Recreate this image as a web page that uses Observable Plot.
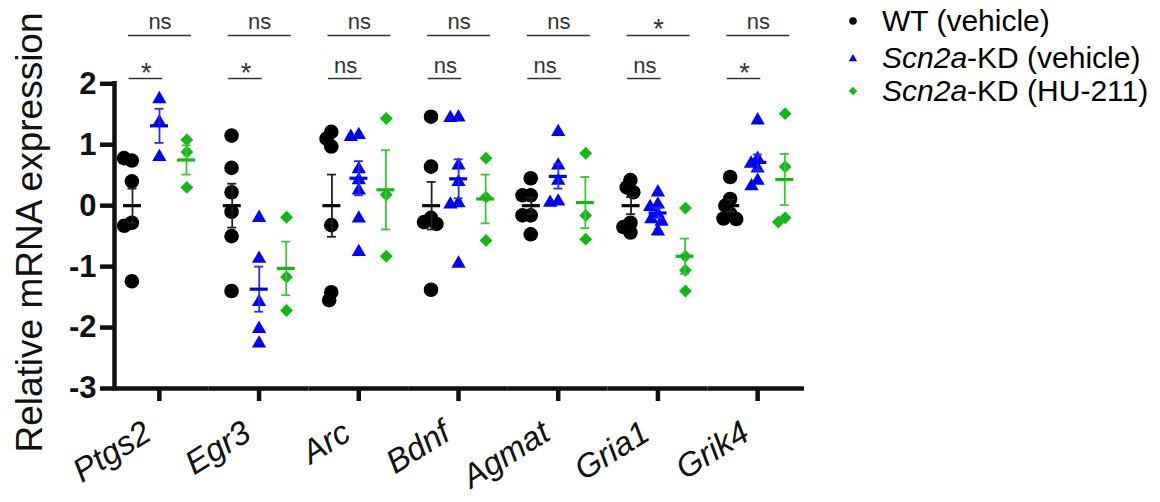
<!DOCTYPE html>
<html>
<head>
<meta charset="utf-8">
<script src="https://cdn.jsdelivr.net/npm/d3@7"></script>
<script src="https://cdn.jsdelivr.net/npm/@observablehq/plot@0.6"></script>
<style>
  html, body { margin: 0; padding: 0; background: #fff; }
  #wrap { position: relative; width: 1160px; height: 502px; font-family: "Liberation Sans", Arial, sans-serif; }
  #legend { position: absolute; left: 0; top: 0; }
  .lrow { position: absolute; white-space: nowrap; font-size: 30px; line-height: 30px; color: #000; }
  .lmark { position: absolute; }
</style>
</head>
<body>
<div id="wrap"><div id="chart"></div><div id="legend"></div></div>
<script>
// ---------- data ----------
const genes = ["Ptgs2", "Egr3", "Arc", "Bdnf", "Agmat", "Gria1", "Grik4"];
const groups = ["WT (vehicle)", "Scn2a-KD (vehicle)", "Scn2a-KD (HU-211)"];
const colors = ["#000000", "#0000ff", "#14b814"];
const barColors = ["#222222", "#2b2bff", "#3cc43c"];
const symbols = ["circle", "triangle", "diamond2"];

// individual animals, per gene
const wtValues = [
  [0.74, 0.78, 0.40, -0.28, -0.33, -1.24],
  [1.15, 0.62, 0.22, -0.10, -0.50, -1.40],
  [1.21, 1.10, 0.97, -0.32, -1.42, -1.55],
  [1.46, 0.64, -0.20, -0.27, -0.30, -1.38],
  [0.45, 0.17, 0.17, -0.16, -0.16, -0.47],
  [0.42, 0.30, 0.22, -0.28, -0.35, -0.44],
  [0.47, 0.11, 0.00, -0.13, -0.21, -0.22]
];
const kdValues = [
  [1.75, 1.37, 0.80],
  [-0.20, -0.87, -1.58, -2.02, -2.26],
  [1.16, 1.13, 0.60, 0.42, 0.25, -0.21, -0.76],
  [1.45, 1.44, 0.66, 0.39, 0.04, 0.02, -0.95],
  [1.21, 0.66, 0.41, 0.07, 0.05],
  [0.22, 0.02, -0.02, -0.14, -0.22, -0.26, -0.42],
  [1.40, 0.77, 0.69, 0.61, 0.41, 0.32]
];
const huValues = [
  [1.08, 0.88, 0.30],
  [-0.19, -1.17, -1.72],
  [1.43, 0.18, -0.83],
  [0.78, 0.14, -0.57],
  [0.86, -0.16, -0.55],
  [-0.04, -0.83, -1.06, -1.40],
  [1.51, 0.64, -0.20, -0.27]
];
// group means and SEM
const wtMean = [0, 0, 0, 0, 0, 0, 0];
const kdMean = [1.31, -1.37, 0.45, 0.44, 0.48, -0.12, 0.71];
const huMean = [0.75, -1.03, 0.26, 0.11, 0.05, -0.83, 0.43];
const wtSem = [0.28, 0.36, 0.51, 0.39, 0.13, 0.14, 0.10];
const kdSem = [0.28, 0.37, 0.28, 0.32, 0.20, 0.08, 0.13];
const huSem = [0.24, 0.44, 0.65, 0.40, 0.42, 0.29, 0.42];
// significance: top bracket (all three groups), lower bracket (WT vs KD)
const sigTop = ["ns", "ns", "ns", "ns", "ns", "*", "ns"];
const sigLow = ["*", "*", "ns", "ns", "ns", "ns", "*"];
const yTicks = [-3, -2, -1, 0, 1, 2];
const yLabel = "Relative mRNA expression";

// ---------- layout ----------
const W = 1160, H = 502, ML = 109, MR = 353, MT = 1, MB = 114;
const bw = (W - ML - MR) / genes.length;
const PAD = 0.813;
const step = bw / (2 + 2 * PAD);
const symR = [7.3, 5.3, 5.8];
const dodgePad = [-6.4, -2.4, -3.6];
const yTopLine = 2.792, yTopText = 2.891, yLowLine = 2.087, yLowText = 2.169;

const valueSets = [wtValues, kdValues, huValues];
const meanSets = [wtMean, kdMean, huMean];
const semSets = [wtSem, kdSem, huSem];

const rows = [];
genes.forEach((g, gi) => valueSets.forEach((vals, k) =>
  vals[gi].forEach(v => rows.push({gene: g, group: groups[k], k, value: v}))));
const stats = genes.flatMap((g, gi) => groups.map((grp, k) =>
  ({gene: g, group: grp, k, mean: meanSets[k][gi], sem: semSets[k][gi]})));
const sigRows = genes.map((g, i) => ({gene: g, top: sigTop[i], low: sigLow[i]}));

const marks = [];
// axes lines
marks.push(Plot.ruleY([genes[0]], {fx: d => d, y: -3, insetLeft: 4, strokeWidth: 4.5, stroke: "#111"}));
marks.push(Plot.ruleY(genes.slice(1, -1), {fx: d => d, y: -3, strokeWidth: 4.5, stroke: "#111"}));
marks.push(Plot.ruleY([genes[genes.length - 1]], {fx: d => d, y: -3, insetRight: 3, strokeWidth: 4.5, stroke: "#111"}));
marks.push(Plot.ruleX([genes[0]], {fx: d => d, x: null, y1: -3, y2: 2, dx: 5 - bw / 2, strokeWidth: 4.5, stroke: "#111", strokeLinecap: "square"}));
marks.push(Plot.axisY({ticks: yTicks, tickSize: 14, tickPadding: 4, dx: 5, fontSize: 31, fontWeight: "bold",
  strokeWidth: 4.5, stroke: "#111", tickFormat: d => String(d), label: null}));
marks.push(Plot.axisFx({anchor: "bottom", tickSize: 13, strokeWidth: 4.5, stroke: "#111", fill: "none", label: null}));
marks.push(Plot.axisFx({anchor: "bottom", tickSize: 0, tickPadding: 50, tickRotate: -32, textAnchor: "end",
  lineAnchor: "bottom", fontSize: 33, fontStyle: "italic", dx: -6, label: null}));
marks.push(Plot.text([yLabel], {fx: () => genes[0], frameAnchor: "left", rotate: -90, dx: 30 - ML,
  dy: 232 - (MT + H - MB) / 2, fontSize: 37, textAnchor: "middle", lineAnchor: "middle"}));

// points
groups.forEach((grp, k) => {
  marks.push(Plot.dot(rows.filter(d => d.k === k), Plot.dodgeX({anchor: "middle", padding: dodgePad[k]}, {
    fx: "gene", y: "value", r: symR[k], symbol: symbols[k], fill: colors[k], stroke: "none", dx: (k - 1) * step
  })));
});
// error bars + means
groups.forEach((grp, k) => {
  const S = stats.filter(d => d.k === k);
  const cap = (yfn) => Plot.ruleY(S, {fx: "gene", x1: "group", x2: "group", y: yfn, stroke: barColors[k], strokeWidth: 1.8, insetLeft: -4.5, insetRight: -4.5});
  marks.push(Plot.ruleX(S, {fx: "gene", x: "group", y1: d => d.mean - d.sem, y2: d => d.mean + d.sem, stroke: barColors[k], strokeWidth: 1.8}));
  marks.push(cap(d => d.mean + d.sem));
  marks.push(cap(d => d.mean - d.sem));
  marks.push(Plot.ruleY(S, {fx: "gene", x1: "group", x2: "group", y: "mean", stroke: colors[k], strokeWidth: 3.2, insetLeft: -9, insetRight: -9}));
});
// significance brackets
marks.push(Plot.ruleY(sigRows, {fx: "gene", y: yTopLine, x1: () => groups[0], x2: () => groups[2], insetLeft: -4, insetRight: -5, stroke: "#333", strokeWidth: 1.6}));
marks.push(Plot.ruleY(sigRows, {fx: "gene", y: yLowLine, x1: () => groups[0], x2: () => groups[1], insetLeft: -3.5, insetRight: -3, stroke: "#333", strokeWidth: 1.6}));
marks.push(Plot.text(sigRows.filter(d => d.top === "ns"), {fx: "gene", x: () => groups[1], y: yTopText, text: "top", dx: 0.5, lineAnchor: "bottom", fontSize: 22, fill: "#333"}));
marks.push(Plot.text(sigRows.filter(d => d.top !== "ns"), {fx: "gene", x: () => groups[1], y: yTopText, text: "top", dx: 0.5, dy: 9, lineAnchor: "bottom", fontSize: 27, fill: "#333"}));
marks.push(Plot.text(sigRows.filter(d => d.low === "ns"), {fx: "gene", x: () => groups[0], y: yLowText, text: "low", dx: step / 2, lineAnchor: "bottom", fontSize: 22, fill: "#333"}));
marks.push(Plot.text(sigRows.filter(d => d.low !== "ns"), {fx: "gene", x: () => groups[0], y: yLowText, text: "low", dx: step / 2, dy: 9, lineAnchor: "bottom", fontSize: 27, fill: "#333"}));

const chart = Plot.plot({
  width: W, height: H,
  marginLeft: ML, marginRight: MR, marginTop: MT, marginBottom: MB,
  style: {fontFamily: '"Liberation Sans", Arial, sans-serif', background: "white", overflow: "visible", color: "#111"},
  fx: {domain: genes, padding: 0, round: false, axis: null},
  x: {type: "point", domain: groups, padding: PAD, axis: null},
  y: {domain: [-3, 3.35], axis: null},
  marks
});
document.getElementById("chart").appendChild(chart);

// ---------- legend ----------
const legend = document.getElementById("legend");
const legendCenters = [21, 58, 91];
const markerSvg = [
  '<svg width="16" height="16" viewBox="-8 -8 16 16"><circle r="3.8" fill="' + colors[0] + '"/></svg>',
  '<svg width="16" height="16" viewBox="-8 -8 16 16"><path d="M0,-4L4.2,3.2L-4.2,3.2Z" fill="' + colors[1] + '"/></svg>',
  '<svg width="16" height="16" viewBox="-8 -8 16 16"><path d="M0,-4.3L4.3,0L0,4.3L-4.3,0Z" fill="' + colors[2] + '"/></svg>'
];
groups.forEach((grp, k) => {
  const m = document.createElement("div");
  m.className = "lmark";
  m.style.left = (853 - 8) + "px";
  m.style.top = (legendCenters[k] - 8) + "px";
  m.innerHTML = markerSvg[k];
  legend.appendChild(m);
  const t = document.createElement("div");
  t.className = "lrow";
  t.style.left = "882px";
  t.style.top = (legendCenters[k] - 14.7) + "px";
  t.innerHTML = grp.replace("Scn2a", "<i>Scn2a</i>");
  legend.appendChild(t);
});
</script>
</body>
</html>
